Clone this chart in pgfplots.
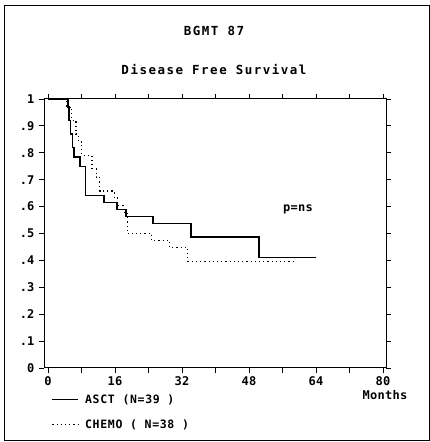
\documentclass[border=0pt]{standalone}
\usepackage{fontspec}
\setmainfont{DejaVu Sans Mono Bold}
\newfontfamily\pfA{DejaVu Sans Mono Bold}[LetterSpace=12]
\newfontfamily\pfB{DejaVu Sans Mono Bold}[LetterSpace=6]
\newfontfamily\pfC{DejaVu Sans Mono Bold}[LetterSpace=2]
\usepackage{pgfplots}
\pgfplotsset{compat=1.18}
\begin{document}
\begin{tikzpicture}[x=1pt,y=1pt]
\useasboundingbox (0,0) rectangle (430,442);
\draw[line width=1pt] (4,1) rectangle (429,436);
\node[font={\pfA\fontsize{12.5}{14}\selectfont}] at (214,411) {BGMT 87};
\node[font={\pfA\fontsize{12.5}{14}\selectfont}] at (214,372) {Disease Free Survival};
\node[font={\pfC\fontsize{12}{14}\selectfont}] at (385,47) {Months};
\begin{axis}[
  at={(44pt,74pt)}, anchor=south west,
  scale only axis, width=342pt, height=269pt,
  xmin=-0.95, xmax=80.7, ymin=0, ymax=1,
  axis line style={line width=1pt},
  tick align=outside, major tick length=5pt, minor tick length=5pt,
  every tick/.style={line width=0.9pt, black},
  xtick={0,16,32,48,64,80}, xticklabels={0,16,32,48,64,80},
  minor xtick={8,24,40,56,72},
  ytick={0,0.1,0.2,0.3,0.4,0.5,0.6,0.7,0.8,0.9,1},
  yticklabels={0,.1,.2,.3,.4,.5,.6,.7,.8,.9,1},
  ticklabel style={font={\pfC\fontsize{12}{14}\selectfont}},
  xticklabel style={yshift=0pt},
  yticklabel style={xshift=-1pt},
  legend style={draw=none, fill=none, at={(rel axis cs:0.022,-0.09)}, anchor=north west,
    font={\pfB\fontsize{11.5}{13}\selectfont}, row sep=11pt, column sep=4pt,
    legend cell align=left, inner sep=0pt},
  legend image code/.code={\draw[#1] (0pt,0pt) -- (26pt,0pt);},
]
\addplot[const plot, black, line width=1.4pt] coordinates {
(0,1)(4.8,0.97)(5.0,0.92)(5.4,0.87)(5.8,0.82)(6.2,0.785)(7.6,0.75)(8.9,0.641)
(13.4,0.615)(16.5,0.59)(18.6,0.564)(25.1,0.538)(34.1,0.487)(50.4,0.41)(64,0.41)};
\addlegendentry{ASCT  (N=39 )}
\addplot[const plot, black, line width=1.1pt, dash pattern=on 1.2pt off 3pt] coordinates {
(0,1)(4.5,0.97)(5.7,0.92)(6.7,0.87)(7.2,0.84)(8.1,0.79)(10.5,0.74)(11.5,0.71)
(12.4,0.658)(15.8,0.632)(16.5,0.605)(17.9,0.579)(18.9,0.50)(24.8,0.474)
(29.1,0.447)(33.4,0.395)(59,0.395)};
\addlegendentry{CHEMO ( N=38 )}
\node[font={\pfC\fontsize{12}{14}\selectfont}] at (axis cs:59.7,0.59) {p=ns};
\end{axis}
\end{tikzpicture}
\end{document}
